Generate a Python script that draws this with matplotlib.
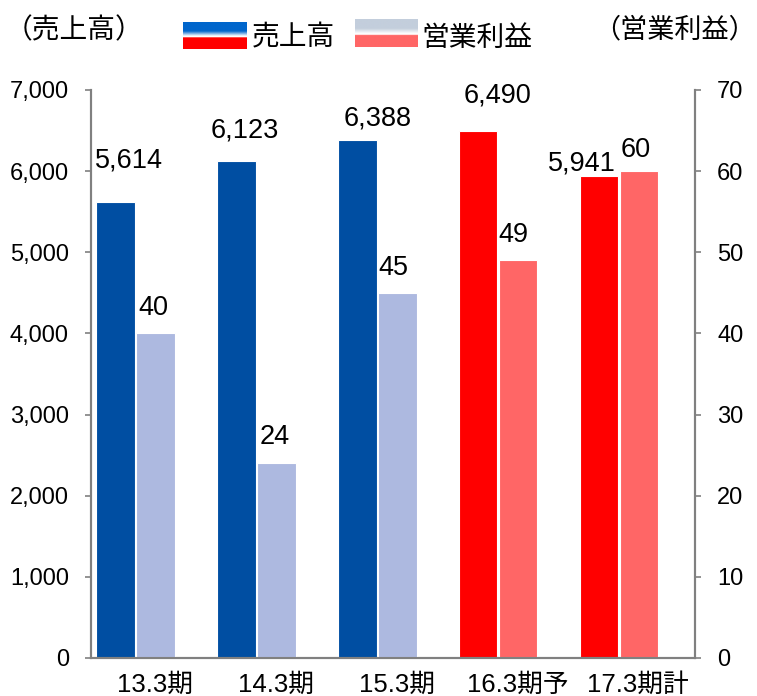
import numpy as np
import matplotlib
matplotlib.use("Agg")
import matplotlib.pyplot as plt
from matplotlib.colors import to_rgb

plt.rcParams['font.family'] = ['Liberation Sans', 'Noto Sans CJK JP', 'DejaVu Sans']

# ---- data ----
categories = ["13.3期", "14.3期", "15.3期", "16.3期予", "17.3期計"]
sales = [5614, 6123, 6388, 6490, 5941]
profit = [40, 24, 45, 49, 60]
sales_labels = ["5,614", "6,123", "6,388", "6,490", "5,941"]
profit_labels = ["40", "24", "45", "49", "60"]
left_ticks = [0, 1000, 2000, 3000, 4000, 5000, 6000, 7000]
left_ticklabels = ["0", "1,000", "2,000", "3,000", "4,000", "5,000", "6,000", "7,000"]
right_ticks = [0, 10, 20, 30, 40, 50, 60, 70]

# ---- styles ----
sales_colors = ["#004EA2", "#004EA2", "#004EA2", "#FF0000", "#FF0000"]
profit_colors = ["#ADB9E0", "#ADB9E0", "#ADB9E0", "#FF6666", "#FF6666"]
# label offsets in pixels (dx, dy up) relative to bar top centre
sales_off = [(13, 42), (8, 31), (20, 21), (19, 36), (-17, 12)]
profit_off = [(-2, 25), (-2, 26), (-4, 25), (-5, 25), (-3, 21)]

W, H, DPI = 757, 696, 100
fig = plt.figure(figsize=(W / DPI, H / DPI), dpi=DPI)
L, R, T, B = 91, 695, 90, 658
ax = fig.add_axes([L / W, 1 - B / H, (R - L) / W, (B - T) / H])
ax2 = ax.twinx()

x = np.arange(len(categories))
bw = 0.32
ax.bar(x + 0.205, sales, width=bw, color=sales_colors, edgecolor="white", linewidth=0.8, zorder=2)
ax2.bar(x + 0.535, profit, width=bw, color=profit_colors, edgecolor="white", linewidth=0.8, zorder=2)

ax.set_xlim(0, 5)
ax.set_ylim(0, 7000)
ax2.set_ylim(0, 70)

px = 0.72  # points per pixel
for i in range(len(categories)):
    dx, dy = sales_off[i]
    ax.annotate(sales_labels[i], (x[i] + 0.205, sales[i]), xytext=(dx * px, dy * px),
                textcoords="offset points", ha="center", va="center", fontsize=19.5,
                color="black", zorder=5)
    dx, dy = profit_off[i]
    ax2.annotate(profit_labels[i], (x[i] + 0.535, profit[i]), xytext=(dx * px, dy * px),
                 textcoords="offset points", ha="center", va="center", fontsize=19.5,
                 color="black", zorder=5)

grey = "#808080"
for a in (ax, ax2):
    a.spines["top"].set_visible(False)
    for s in ("left", "right", "bottom"):
        a.spines[s].set_color(grey)
        a.spines[s].set_linewidth(1.5)

ax.set_yticks(left_ticks)
ax.set_yticklabels(left_ticklabels)
ax.tick_params(axis="y", direction="out", length=4.5, width=1.2, color=grey, pad=11.5,
               labelsize=17)
ax2.set_yticks(right_ticks)
ax2.tick_params(axis="y", direction="out", length=4.5, width=1.2, color=grey, pad=11.5,
                labelsize=17)
ax.set_xticks(x + 0.53)
ax.set_xticklabels(categories)
ax.tick_params(axis="x", length=0, pad=11, labelsize=18.5)

# axis titles
fig.text(5 / W, 1 - 30 / H, "（売上高）", ha="left", va="center", fontsize=20,
         family=["Noto Sans CJK JP"])
fig.text(756 / W, 1 - 30 / H, "（営業利益）", ha="right", va="center", fontsize=19.5,
         family=["Noto Sans CJK JP"])

# legend handles (two-tone swatches)
def swatch(x0, y0, w, h, top_col, bottom_col):
    n = 60
    img = np.ones((n, 2, 3))
    t = np.array(to_rgb(top_col))
    b = np.array(to_rgb(bottom_col))
    for k in range(n):
        f = k / (n - 1)
        if f < 0.33:
            img[k] = t
        elif f < 0.52:
            g = (f - 0.33) / 0.19
            img[k] = t * (1 - g) + np.array([1, 1, 1]) * g
        elif f < 0.56:
            img[k] = 1
        else:
            img[k] = b
    sa = fig.add_axes([x0 / W, 1 - (y0 + h) / H, w / W, h / H])
    sa.imshow(img, aspect="auto", interpolation="bilinear")
    sa.axis("off")

swatch(183, 22, 64, 27, "#0066CC", "#FF0000")
fig.text(252 / W, 1 - 37 / H, "売上高", ha="left", va="center", fontsize=20,
         family=["Noto Sans CJK JP"])
swatch(355, 19, 62, 28, "#C3CEDC", "#FF6666")
fig.text(421 / W, 1 - 38 / H, "営業利益", ha="left", va="center", fontsize=20,
         family=["Noto Sans CJK JP"])

fig.savefig("out.png", dpi=DPI)
